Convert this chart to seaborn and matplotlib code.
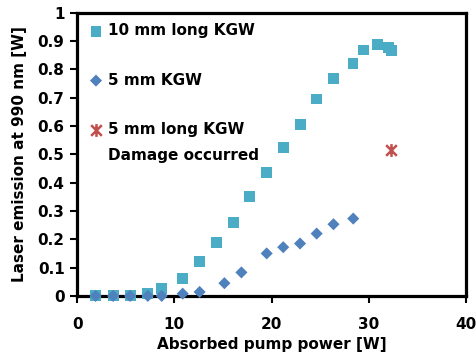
import matplotlib
matplotlib.use("Agg")
import matplotlib.pyplot as plt
from matplotlib.path import Path
import seaborn as sns
import pandas as pd

# Data
x_10mm = [1.9, 3.7, 5.45, 7.27, 8.7, 10.86, 12.6, 14.3, 16.05, 17.76, 19.5, 21.2, 22.93, 24.64, 26.35, 28.38, 29.44, 30.92, 32.0, 32.36]
y_10mm = [0.0, 0.0, 0.0, 0.007, 0.027, 0.062, 0.121, 0.187, 0.26, 0.351, 0.436, 0.523, 0.606, 0.695, 0.767, 0.821, 0.868, 0.886, 0.876, 0.866]
x_5mm = [1.9, 3.7, 5.45, 7.27, 8.7, 10.86, 12.6, 15.15, 16.9, 19.5, 21.2, 22.93, 24.64, 26.37, 28.4]
y_5mm = [0.0, 0.0, 0.0, 0.0, 0.0, 0.008, 0.014, 0.045, 0.083, 0.15, 0.172, 0.185, 0.22, 0.253, 0.273]
x_damage = [32.3]
y_damage = [0.514]

labels = ["10 mm long KGW", "5 mm KGW", "5 mm long KGW", "Damage occurred"]
x_ticks = [0, 10, 20, 30, 40]
y_ticks = [0, 0.1, 0.2, 0.3, 0.4, 0.5, 0.6, 0.7, 0.8, 0.9, 1]
y_tick_labels = ["0", "0.1", "0.2", "0.3", "0.4", "0.5", "0.6", "0.7", "0.8", "0.9", "1"]

sns.set_style("white")
plt.rcParams['font.family'] = ['DejaVu Sans']
plt.rcParams['font.weight'] = 'bold'
plt.rcParams['text.color'] = 'black'
plt.rcParams['axes.labelcolor'] = 'black'
plt.rcParams['xtick.color'] = 'black'
plt.rcParams['ytick.color'] = 'black'

# Excel-style star marker: X plus a vertical bar
star = Path([(-1, -1), (1, 1), (-1, 1), (1, -1), (0, -1.2), (0, 1.2)],
            [Path.MOVETO, Path.LINETO, Path.MOVETO, Path.LINETO, Path.MOVETO, Path.LINETO])

fig = plt.figure(figsize=(4.76, 3.6), dpi=100)
ax = fig.add_axes([0.162, 0.178, 0.817, 0.787])

df1 = pd.DataFrame({"x": x_10mm, "y": y_10mm})
df2 = pd.DataFrame({"x": x_5mm, "y": y_5mm})
df3 = pd.DataFrame({"x": x_damage, "y": y_damage})

sns.scatterplot(data=df1, x="x", y="y", ax=ax, marker="s", s=62, color="#4BACC6",
                edgecolor="none", label=labels[0], zorder=5, clip_on=False)
sns.scatterplot(data=df2, x="x", y="y", ax=ax, marker="D", s=38, color="#4F81BD",
                edgecolor="none", label=labels[1], zorder=6, clip_on=False)
ax.scatter(df3["x"], df3["y"], marker=star, s=85, color="#C0504D",
           linewidths=1.8, label=labels[2], zorder=6)

ax.set_xlim(0, 40)
ax.set_ylim(0, 1)
ax.set_xticks(x_ticks)
ax.set_yticks(y_ticks)
ax.set_yticklabels(y_tick_labels)
ax.set_xlabel("Absorbed pump power [W]", fontsize=11, fontweight="bold", labelpad=4,
              color="black")
ax.set_ylabel("Laser emission at 990 nm [W]", fontsize=11, fontweight="bold", labelpad=8,
              color="black")

for sp in ax.spines.values():
    sp.set_visible(True)
    sp.set_color("black")
    sp.set_linewidth(2.3)

ax.tick_params(axis="both", which="major", direction="out", length=5, width=1.5,
               colors="black", labelcolor="black", labelsize=11, bottom=True, left=True)
ax.tick_params(axis="x", pad=10)
ax.tick_params(axis="y", pad=4)
for lab in ax.get_xticklabels() + ax.get_yticklabels():
    lab.set_fontweight("bold")

leg = ax.legend(loc="upper left", bbox_to_anchor=(0.023, 0.976), frameon=False,
                labelspacing=2.25, handletextpad=0.4, handlelength=0.8,
                borderaxespad=0.0, borderpad=0.25,
                prop={"weight": "bold", "size": 11})
for t in leg.get_texts():
    t.set_color("black")

fig.canvas.draw()
t3 = leg.get_texts()[2]
bb = t3.get_window_extent().transformed(ax.transAxes.inverted())
ax.text(bb.x0, bb.y0 - 0.04, labels[3], transform=ax.transAxes, ha="left", va="top",
        fontsize=11, fontweight="bold", color="black")

fig.savefig("out.png", dpi=100)
